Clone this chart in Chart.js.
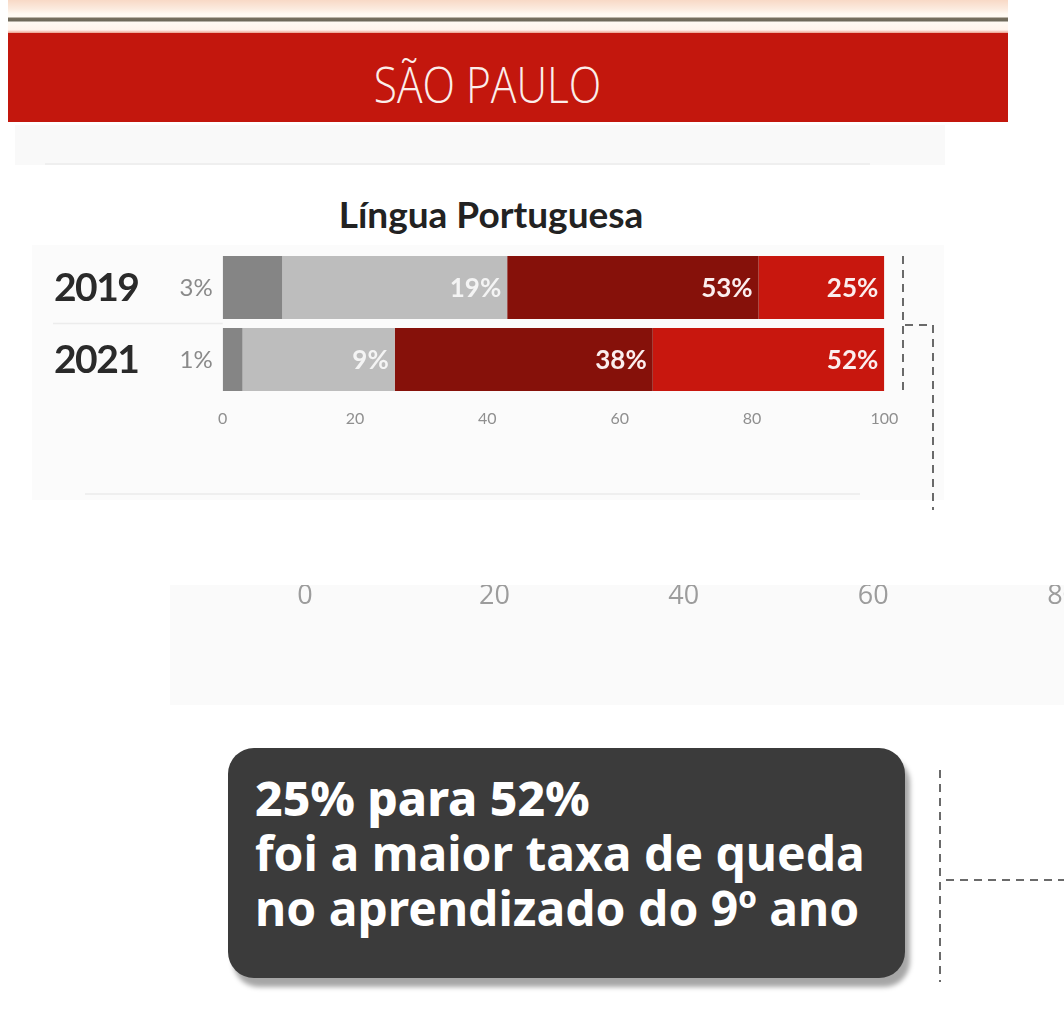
<!DOCTYPE html>
<html>
<head>
<meta charset="utf-8">
<script src="https://cdn.jsdelivr.net/npm/chart.js@4.4.0/dist/chart.umd.min.js"></script>
<style>
  body { margin: 0; width: 1064px; height: 1028px; overflow: hidden; background: #fff; position: relative; font-family: Lato, "Noto Sans", sans-serif; }
  .abs { position: absolute; }
  #faixaTopo { left: 8px; top: 0; width: 1000px; height: 33px;
    background: linear-gradient(to bottom, #f8d9c6 0, #fcebdf 9px, #fffaf3 14px, #fffaf3 17px, #77705f 18px, #6c685a 21px, #fffaf3 22px, #fff4ec 30px, #ec9f8d 33px); }
  #banner { left: 8px; top: 33px; width: 1000px; height: 89px; background: #c3170d; }
  #banner div { position: absolute; left: 0; top: 7px; width: 959px; text-align: center; line-height: 89px;
    color: #fbeeea; font-family: "Open Sans", sans-serif; font-weight: 300; font-size: 50px; transform: scaleX(0.85); }
  #painelA { left: 15px; top: 125px; width: 930px; height: 40px; background: #f9f9f9; }
  #linhaA { left: 45px; top: 163px; width: 825px; height: 2px; background: #efefef; }
  #titulo { left: 241px; top: 192px; width: 500px; text-align: center; font-size: 37px; font-weight: 700; color: #222; line-height: 44px; }
  #painelB { left: 32px; top: 245px; width: 912px; height: 255px; background: #fbfbfb; }
  #linhaB { left: 85px; top: 493px; width: 775px; height: 2px; background: #efefef; }
  #graf1 { left: 0; top: 245px; }
  #frag { left: 170px; top: 585px; width: 894px; height: 120px; overflow: hidden; background: #fafafa; }
  #graf2 { position: absolute; left: 0; top: -57px; }
  #caixa { left: 228px; top: 748px; width: 677px; height: 230px; border-radius: 26px; background: #3b3b3b;
    box-shadow: 5px 9px 5px rgba(0,0,0,0.35); box-sizing: border-box; padding: 22px 0 0 27px;
    color: #fff; font-family: "Noto Sans", sans-serif; font-weight: 700; font-size: 48px; line-height: 55px; white-space: nowrap; }
  #caixa b { font-weight: 800; }
  #tracos { left: 0; top: 0; }
</style>
</head>
<body>
<div class="abs" id="faixaTopo"></div>
<div class="abs" id="banner"><div>SÃO PAULO</div></div>
<div class="abs" id="painelA"></div>
<div class="abs" id="linhaA"></div>
<div class="abs" id="titulo">Língua Portuguesa</div>
<div class="abs" id="painelB"></div>
<div class="abs" id="linhaB"></div>
<canvas class="abs" id="graf1" width="960" height="195"></canvas>
<div class="abs" id="frag"><canvas id="graf2" width="1200" height="90"></canvas></div>
<div class="abs" id="caixa"><b>25% para 52%</b><br>foi a maior taxa de queda<br>no aprendizado do 9º ano</div>
<svg class="abs" id="tracos" width="1064" height="1028">
  <g stroke="#6a6a6a" stroke-width="2" fill="none" stroke-dasharray="8 6">
    <path d="M903 256 V395"/>
    <path d="M905 325 H933 V510"/>
    <path d="M940 770 V982"/>
    <path d="M946 880 H1064"/>
  </g>
</svg>

<script>
// -------------------------------
// DADOS
// -------------------------------
const anos = ["2019", "2021"];

// comprimento das faixas como estao desenhadas no grafico
const abaixoBasico = [9, 3];
const basico = [34, 23];
const proficiente = [38, 39];
const avancado = [19, 35];

// textos impressos em cada faixa
const txtAbaixoBasico = ["3%", "1%"];
const txtBasico = ["19%", "9%"];
const txtProficiente = ["53%", "38%"];
const txtAvancado = ["25%", "52%"];

const ticksEixo = [0, 20, 40, 60, 80, 100];
const ticksFragmento = [0, 20, 40, 60, 80];

// -------------------------------
// ROTULOS
// -------------------------------
const rotulosPlugin = {
    id: "rotulos",
    afterDatasetsDraw(chart) {
        const ctx = chart.ctx;
        const area = chart.chartArea;
        const y = chart.scales.y;

        ctx.save();
        chart.data.datasets.forEach((ds, i) => {
            chart.getDatasetMeta(i).data.forEach((bar, j) => {
                const txt = ds.textos[j];
                ctx.textBaseline = "middle";
                ctx.textAlign = "right";
                if (i === 0) {
                    ctx.fillStyle = "#8a8a8a";
                    ctx.font = "400 24px Lato";
                    ctx.fillText(txt, area.left - 10, bar.y + 1);
                } else {
                    ctx.fillStyle = i === 1 ? "#f4f4f4" : "#fbeeee";
                    ctx.font = "700 26px Lato";
                    ctx.fillText(txt, bar.x - 6, bar.y + 1);
                }
            });
        });

        // anos
        ctx.fillStyle = "#2a2a2a";
        ctx.font = "700 39px Lato";
        ctx.letterSpacing = "-1.5px";
        ctx.textAlign = "left";
        anos.forEach((a, j) => {
            ctx.fillText(a, 54, y.getPixelForValue(j) + 1);
        });
        ctx.letterSpacing = "0px";

        // linha entre os anos
        const meio = (y.getPixelForValue(0) + y.getPixelForValue(1)) / 2;
        ctx.strokeStyle = "#ececec";
        ctx.lineWidth = 1.5;
        ctx.beginPath();
        ctx.moveTo(53, meio);
        ctx.lineTo(area.left, meio);
        ctx.stroke();
        ctx.restore();
    }
};

// -------------------------------
// GRAFICO PRINCIPAL
// -------------------------------
new Chart(document.getElementById("graf1"), {
    type: "bar",
    data: {
        labels: anos,
        datasets: [
            { data: abaixoBasico, textos: txtAbaixoBasico, backgroundColor: "#858585" },
            { data: basico, textos: txtBasico, backgroundColor: "#bdbdbd" },
            { data: proficiente, textos: txtProficiente, backgroundColor: "#86110a" },
            { data: avancado, textos: txtAvancado, backgroundColor: "#c8170e" }
        ]
    },
    options: {
        indexAxis: "y",
        responsive: false,
        animation: false,
        datasets: { bar: { barPercentage: 1, categoryPercentage: 0.875, borderWidth: 0 } },
        layout: { padding: { left: 222.7, right: 75.7, top: 6.5, bottom: 4.5 } },
        scales: {
            x: {
                stacked: true,
                min: 0,
                max: 100,
                afterBuildTicks: s => { s.ticks = ticksEixo.map(v => ({ value: v })); },
                afterFit: s => { s.height = 40; },
                grid: { display: false },
                border: { display: false },
                ticks: { color: "#8f8f8f", font: { family: "Lato", size: 16 }, padding: 6, maxRotation: 0 }
            },
            y: { stacked: true, display: false }
        },
        plugins: { legend: { display: false }, tooltip: { enabled: false } }
    },
    plugins: [rotulosPlugin]
});

// -------------------------------
// EIXO RECORTADO (FRAGMENTO)
// -------------------------------
new Chart(document.getElementById("graf2"), {
    type: "bar",
    data: { labels: [], datasets: [] },
    options: {
        indexAxis: "y",
        responsive: false,
        animation: false,
        layout: { padding: { left: 135, right: 118, top: 0, bottom: 0 } },
        scales: {
            x: {
                min: 0,
                max: 100,
                afterBuildTicks: s => { s.ticks = ticksFragmento.map(v => ({ value: v })); },
                afterFit: s => { s.height = 50; },
                grid: { display: false },
                border: { display: false },
                ticks: { color: "#9c9c9c", font: { family: "Open Sans", size: 27, weight: 400 }, padding: 4, maxRotation: 0 }
            },
            y: { display: false }
        },
        plugins: { legend: { display: false }, tooltip: { enabled: false } }
    }
});
</script>
</body>
</html>
